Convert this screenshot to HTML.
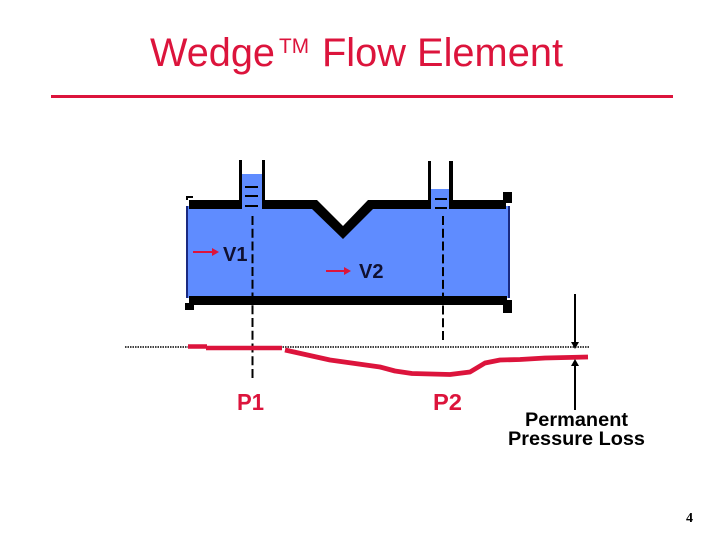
<!DOCTYPE html>
<html><head><meta charset="utf-8"><style>
html,body{margin:0;padding:0;background:#fff}
svg{display:block}
</style></head><body>
<svg width="720" height="540" viewBox="0 0 720 540" xmlns="http://www.w3.org/2000/svg">
<rect width="720" height="540" fill="#fff"/>
<g font-family="'Liberation Sans',sans-serif" fill="#dc143c">
<text x="150" y="66" font-size="40" textLength="125" lengthAdjust="spacingAndGlyphs">Wedge</text>
<text x="279" y="53" font-size="21" textLength="30" lengthAdjust="spacingAndGlyphs">TM</text>
<text x="322" y="66" font-size="40" textLength="241" lengthAdjust="spacingAndGlyphs">Flow Element</text>
</g>
<rect x="51" y="95" width="622" height="3" fill="#dc143c"/>

<!-- fluid -->
<polygon points="187,206 312,206 343,232 372,206 509,206 509,298 187,298" fill="#5f8cff"/>
<rect x="242" y="174" width="20" height="34" fill="#5f8cff"/>
<rect x="430" y="189" width="20" height="20" fill="#5f8cff"/>
<rect x="186" y="206" width="2" height="92" fill="#1a2a80"/>
<rect x="508" y="206" width="2" height="92" fill="#1a2a80"/>

<!-- walls -->
<rect x="189" y="200" width="53" height="9" fill="#000"/>
<rect x="262" y="200" width="55" height="9" fill="#000"/>
<polygon points="317,200 343,226 368,200 373,209 343,239 312,209 312,200" fill="#000"/>
<rect x="368" y="200" width="60" height="9" fill="#000"/>
<rect x="450" y="200" width="56" height="9" fill="#000"/>
<rect x="189" y="296" width="318" height="9" fill="#000"/>
<rect x="239" y="160" width="3" height="49" fill="#000"/>
<rect x="262" y="160" width="3" height="49" fill="#000"/>
<rect x="428" y="161" width="3" height="48" fill="#000"/>
<rect x="449" y="161" width="4" height="48" fill="#000"/>
<rect x="503" y="192" width="9" height="11" fill="#000"/>
<rect x="503" y="300" width="9" height="13" fill="#000"/>
<rect x="185" y="303" width="9" height="7" fill="#000"/>
<rect x="186" y="196" width="7" height="2" fill="#000"/>
<rect x="186" y="196" width="2" height="4" fill="#000"/>

<!-- tube ticks -->
<g fill="#000">
<rect x="245" y="186" width="13" height="2"/>
<rect x="245" y="195" width="13" height="2"/>
<rect x="245" y="205" width="13" height="2"/>
<rect x="435" y="198" width="12" height="2"/>
<rect x="435" y="207" width="12" height="2"/>
</g>

<!-- dashed lines -->
<path d="M252.500 216V378" stroke="#000" stroke-width="2" stroke-dasharray="9 3.750" fill="none"/>
<path d="M443 216V340" stroke="#000" stroke-width="2" stroke-dasharray="9 3.780" fill="none"/>

<!-- dotted reference -->
<line x1="125" y1="347" x2="590" y2="347" stroke="#000" stroke-width="1.500" stroke-dasharray="1.500 1"/>

<!-- flow arrows -->
<line x1="193" y1="252" x2="213" y2="252" stroke="#dc143c" stroke-width="2"/>
<polygon points="212,248 219,252 212,256" fill="#dc143c"/>
<line x1="326" y1="271" x2="345" y2="271" stroke="#dc143c" stroke-width="2"/>
<polygon points="344,267 351,271 344,275" fill="#dc143c"/>

<!-- pressure line -->
<polyline points="188,346.500 207,346.500" stroke="#dc143c" stroke-width="4.500" fill="none"/>
<polyline points="206,348 282,348" stroke="#dc143c" stroke-width="4.500" fill="none"/>
<polyline points="285,350 330,360 380,367 395,371 412,373.500 450,374.500 470,372 485,363 500,360 520,359.500 545,358 588,357" stroke="#dc143c" stroke-width="4.800" fill="none" stroke-linejoin="round"/>

<!-- loss arrows -->
<line x1="575" y1="294" x2="575" y2="342" stroke="#000" stroke-width="2"/>
<polygon points="571,342 579,342 575,349" fill="#000"/>
<line x1="575" y1="365" x2="575" y2="410" stroke="#000" stroke-width="2"/>
<polygon points="571,366 579,366 575,359" fill="#000"/>

<!-- labels -->
<g font-family="'Liberation Sans',sans-serif" font-weight="bold">
<text x="223" y="261" font-size="20" fill="#101030">V1</text>
<text x="359" y="278" font-size="20" fill="#101030">V2</text>
<text x="237" y="410" font-size="23" fill="#dc143c" textLength="27" lengthAdjust="spacingAndGlyphs">P1</text>
<text x="433" y="410" font-size="23" fill="#dc143c" textLength="29" lengthAdjust="spacingAndGlyphs">P2</text>
<text x="525" y="426" font-size="19" fill="#000" textLength="103" lengthAdjust="spacingAndGlyphs">Permanent</text>
<text x="508" y="445" font-size="19" fill="#000" textLength="137" lengthAdjust="spacingAndGlyphs">Pressure Loss</text>
</g>
<text x="686" y="522" font-family="'Liberation Serif',serif" font-weight="bold" font-size="14" fill="#000">4</text>
</svg>
</body></html>
